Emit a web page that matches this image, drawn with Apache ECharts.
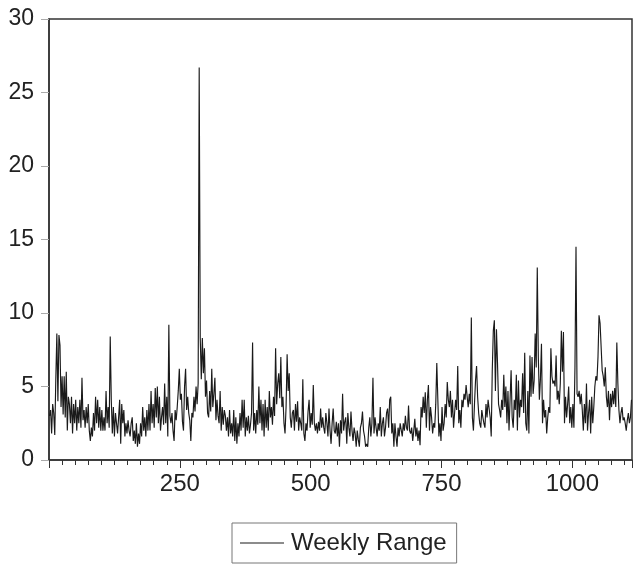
<!DOCTYPE html>
<html>
<head>
<meta charset="utf-8">
<script src="https://cdn.jsdelivr.net/npm/echarts@6/dist/echarts.min.js"></script>
<style>
  html, body { margin: 0; padding: 0; background: #fff; }
  #chart { width: 635px; height: 565px; }
</style>
</head>
<body>
<div id="chart"></div>
<script>
// weekly range, every 2nd week starting at week 1
const firstWeek = 1
const weekStep = 2
const weeklyRange = [
  // weeks 1 - 215
  3.0, 3.4, 1.8, 3.8, 3.2, 1.7, 5.5, 8.6, 4.0, 8.5,
  7.8, 3.6, 5.7, 3.1, 5.7, 2.9, 6.0, 2.0, 4.3, 3.8,
  2.5, 4.3, 1.8, 3.8, 2.5, 4.1, 2.0, 3.6, 2.5, 4.1,
  2.2, 5.6, 2.7, 3.4, 2.2, 3.6, 2.5, 3.8, 2.0, 1.3,
  2.2, 1.6, 3.2, 2.0, 4.3, 2.5, 4.1, 2.2, 3.6, 2.0,
  3.4, 2.0, 2.9, 2.0, 4.7, 2.5, 3.6, 2.2, 8.4, 4.1,
  1.8, 3.6, 1.6, 3.2, 2.5, 1.8, 2.9, 4.1, 1.1, 3.8,
  2.5, 3.4, 1.6, 2.5, 1.8, 2.7, 2.0, 1.6, 2.5, 2.9,
  1.3, 2.0, 1.1, 2.5, 0.9, 1.8, 1.1, 2.5, 1.6, 3.6,
  2.0, 2.9, 1.6, 3.4, 2.0, 3.8, 2.0, 4.7, 2.5, 3.8,
  2.2, 4.9, 2.9, 5.0, 2.5, 4.3, 2.0, 2.9,
  // weeks 217 - 433
  3.6, 2.4, 5.2, 2.5, 4.3, 1.6, 9.2, 3.0, 2.5, 3.2,
  2.0, 1.3, 3.4, 2.7, 3.6, 4.7, 6.2, 4.1, 4.5, 2.6,
  2.0, 5.0, 6.2, 3.4, 4.3, 3.2, 2.7, 1.3, 3.2, 2.9,
  4.3, 3.3, 5.0, 3.8, 5.2, 26.7, 8.3, 5.5, 8.3, 5.9,
  7.6, 4.3, 5.4, 3.2, 2.9, 4.7, 3.3, 6.2, 3.6, 4.5,
  5.6, 2.7, 4.1, 3.0, 2.5, 4.7, 2.0, 3.6, 2.4, 3.4,
  3.0, 2.0, 2.9, 1.6, 3.4, 1.8, 2.5, 1.6, 3.4, 1.3,
  2.9, 1.1, 2.5, 1.6, 3.2, 2.0, 4.1, 2.2, 4.1, 1.6,
  2.9, 2.0, 3.0, 1.8, 2.4, 3.2, 8.0, 2.0, 3.2, 1.8,
  3.4, 2.4, 5.0, 2.5, 4.1, 2.0, 3.8, 1.6, 4.1, 2.2,
  3.6, 2.0, 4.7, 2.9, 3.6, 2.4, 4.3, 3.0, 7.6,
  // weeks 435 - 651
  3.8, 5.2, 5.9, 4.2, 7.0, 3.6, 4.3, 2.5, 1.8, 3.6,
  7.2, 4.7, 5.9, 2.9, 2.2, 3.2, 3.4, 2.0, 3.8, 2.6,
  4.0, 2.0, 2.9, 2.5, 2.0, 5.5, 1.8, 1.3, 2.5, 2.0,
  3.3, 4.1, 2.2, 3.2, 2.4, 5.1, 2.5, 2.0, 2.5, 1.8,
  2.6, 2.0, 3.5, 2.2, 2.9, 2.2, 1.8, 3.2, 2.5, 1.6,
  3.5, 2.0, 1.1, 2.5, 3.5, 2.0, 1.8, 2.6, 1.6, 2.5,
  0.9, 2.7, 1.8, 4.5, 2.0, 2.6, 2.9, 1.1, 3.2, 2.2,
  1.6, 3.3, 2.0, 1.3, 2.2, 1.8, 0.9, 2.0, 1.4, 0.9,
  2.2, 2.5, 3.3, 2.0, 1.6, 0.9, 1.1, 0.9, 2.2, 2.9,
  1.6, 2.5, 5.6, 1.8, 2.9, 2.2, 1.6, 2.5, 2.0, 3.6,
  1.6, 2.5, 2.9, 1.6, 2.2, 3.2, 3.5, 2.2, 4.1,
  // weeks 653 - 867
  4.3, 1.8, 2.5, 0.9, 2.5, 1.6, 0.9, 2.2, 1.6, 2.5,
  2.4, 1.6, 2.5, 2.0, 3.0, 2.2, 2.0, 3.7, 2.0, 1.8,
  2.2, 1.3, 2.0, 2.8, 1.6, 2.2, 1.3, 2.0, 1.0, 3.6,
  2.9, 4.3, 3.2, 4.6, 2.2, 4.1, 5.1, 2.0, 3.6, 2.9,
  1.8, 2.5, 2.2, 3.8, 6.6, 4.1, 1.6, 2.5, 1.3, 3.6,
  2.0, 2.5, 3.8, 2.9, 5.3, 4.1, 3.6, 4.7, 2.9, 4.1,
  2.2, 3.2, 4.1, 3.4, 6.4, 2.5, 3.4, 2.2, 4.1, 3.6,
  4.5, 4.1, 5.1, 4.3, 3.6, 4.5, 3.8, 9.7, 2.9, 2.0,
  3.8, 5.4, 6.4, 4.3, 3.2, 2.5, 2.2, 3.4, 2.9, 2.5,
  2.2, 3.8, 2.9, 4.1, 4.2, 2.9, 1.6, 6.1, 8.8, 9.5,
  4.7, 8.9, 6.6, 3.8, 3.4, 2.9, 4.1, 3.4,
  // weeks 869 - 1113
  5.8, 3.6, 5.0, 2.5, 4.7, 2.0, 4.1, 6.1, 2.9, 2.2,
  4.1, 3.4, 5.8, 2.0, 5.4, 2.9, 4.1, 3.6, 5.9, 3.2,
  7.3, 2.5, 2.0, 4.7, 1.8, 7.1, 4.3, 7.0, 4.5, 5.4,
  8.6, 6.3, 13.1, 7.0, 4.1, 5.5, 7.9, 2.5, 4.1, 2.9,
  3.4, 1.8, 2.9, 3.6, 3.2, 7.6, 5.7, 5.2, 5.4, 5.0,
  7.1, 4.1, 4.7, 3.8, 5.2, 8.8, 6.0, 8.7, 2.5, 4.3,
  2.9, 3.8, 5.0, 2.5, 3.6, 2.2, 3.8, 2.2, 6.3, 14.5,
  4.5, 4.3, 4.7, 3.8, 4.5, 3.4, 2.0, 3.8, 2.5, 5.2,
  2.0, 3.2, 4.1, 1.8, 4.3, 2.5, 3.6, 5.0, 5.7, 5.4,
  7.0, 9.85, 9.3, 9.4, 6.1, 5.7, 5.0, 6.3, 4.3, 3.6,
  4.7, 2.7, 4.5, 3.6, 4.7, 3.8, 4.9, 3.6, 8.0, 5.2,
  3.4, 2.5, 3.2, 3.6, 2.7, 2.9, 2.5, 2.0, 2.7, 3.2,
  2.5, 2.9, 4.1
]
const xTicks = [250, 500, 750, 1000]
const yTicks = [0, 5, 10, 15, 20, 25, 30]
const seriesName = 'Weekly Range'

const ink = '#1a1a1a'
const font = '"Liberation Sans", Arial, sans-serif'

const chart = echarts.init(document.getElementById('chart'))
chart.setOption({
  animation: false,
  grid: {
    left: 49, right: -1, top: 19, bottom: 105,
    show: true, borderColor: '#333', borderWidth: 1.5, backgroundColor: 'transparent'
  },
  legend: {
    data: [{ name: seriesName, icon: 'rect' }],
    left: 232, top: 523,
    itemWidth: 44, itemHeight: 1.2, itemGap: 10,
    padding: [8, 10, 8, 8],
    borderColor: '#777', borderWidth: 1,
    textStyle: { color: '#222', fontSize: 24, fontFamily: font, padding: [0, 0, 0, 2] }
  },
  xAxis: {
    type: 'value',
    min: 0, max: 1114, interval: 250,
    axisLine: { lineStyle: { color: '#333', width: 1.5 } },
    axisTick: { length: 8, lineStyle: { color: '#333' } },
    minorTick: { show: true, splitNumber: 10, length: 5, lineStyle: { color: '#333' } },
    splitLine: { show: false },
    axisLabel: {
      color: '#222', fontSize: 24, fontFamily: font, margin: 12,
      formatter: (v) => (xTicks.includes(v) ? String(v) : '')
    }
  },
  yAxis: {
    type: 'value',
    min: yTicks[0], max: yTicks[yTicks.length - 1], interval: 5,
    axisLine: { show: true, lineStyle: { color: '#333', width: 1.5 } },
    axisTick: { show: true, length: 8, lineStyle: { color: '#aaa' } },
    splitLine: { show: false },
    axisLabel: { color: '#222', fontSize: 23, fontFamily: font, margin: 15 }
  },
  series: [{
    name: seriesName,
    type: 'line',
    showSymbol: false,
    symbol: 'none',
    lineStyle: { color: ink, width: 1.15 },
    itemStyle: { color: ink },
    data: weeklyRange.map((v, i) => [firstWeek + i * weekStep, v])
  }]
})
</script>
</body>
</html>
